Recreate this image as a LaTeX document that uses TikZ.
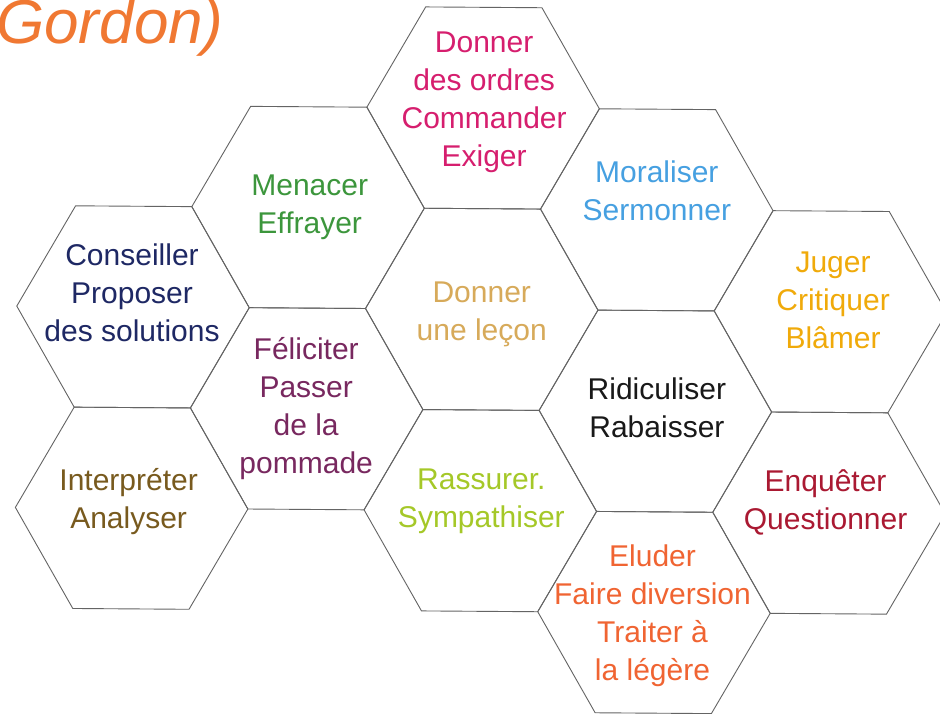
\documentclass[tikz,border=0pt]{standalone}
\usepackage{fontspec}
\setmainfont{Liberation Sans}
\usetikzlibrary{calc}
\definecolor{cordres}{RGB}{214,30,110}
\definecolor{cmenacer}{RGB}{60,150,60}
\definecolor{cconseil}{RGB}{30,40,100}
\definecolor{cmoral}{RGB}{70,160,225}
\definecolor{cjuger}{RGB}{240,170,10}
\definecolor{clecon}{RGB}{215,170,90}
\definecolor{cfelic}{RGB}{120,40,95}
\definecolor{crassur}{RGB}{165,200,40}
\definecolor{cridic}{RGB}{25,25,25}
\definecolor{cinterp}{RGB}{120,90,30}
\definecolor{cenquet}{RGB}{170,25,50}
\definecolor{celuder}{RGB}{240,100,50}
\definecolor{cgordon}{RGB}{240,120,50}
\definecolor{cline}{RGB}{100,100,100}
\newcommand\hexcell[1]{(#1) ++(0:116.25) -- ++(120:116.25) -- ++(180:116.25) -- ++(240:116.25) -- ++(300:116.25) -- ++(0:116.25) -- cycle}
\begin{document}
\begin{tikzpicture}[x=1pt,y=-1pt,
  hexline/.style={draw=cline, line width=0.9pt, line join=miter},
  lbl/.style={align=center, inner sep=0pt, font=\fontsize{30}{38}\selectfont},
  titlelbl/.style={inner sep=0pt, anchor=base west, text=cgordon, font=\fontsize{62}{70}\selectfont\itshape}]
\useasboundingbox (0,0) rectangle (940,714);
\clip (0,0) rectangle (940,714);
\fill[white] (0,0) rectangle (940,714);
\begin{scope}[rotate around={-0.4:(482,310)}]
  \coordinate (h00) at (133,309.35);
  \coordinate (h01) at (133,510.7);
  \coordinate (h10) at (307.375,208.67);
  \coordinate (h11) at (307.375,410.0);
  \coordinate (h20) at (481.75,108);
  \coordinate (h21) at (481.75,309.35);
  \coordinate (h22) at (481.75,510.7);
  \coordinate (h30) at (656.125,208.67);
  \coordinate (h31) at (656.125,410.0);
  \coordinate (h32) at (656.125,611.35);
  \coordinate (h40) at (830.5,309.35);
  \coordinate (h41) at (830.5,510.7);
  \foreach \h in {h00,h01,h10,h11,h20,h21,h22,h30,h31,h32,h40,h41}
    \draw[hexline] \hexcell{\h};
\end{scope}
\node[titlelbl] (title) at (-4,44) {Gordon)};
\node[lbl, text=cordres]  (t1)  at ($(h20)+(1,-6.6)$)   {Donner\strut\\des ordres\strut\\Commander\strut\\Exiger\strut};
\node[lbl, text=cmenacer] (t2)  at ($(h10)+(1.6,-1)$)   {Menacer\strut\\Effrayer\strut};
\node[lbl, text=cconseil] (t3)  at ($(h00)+(-1,-11.4)$) {Conseiller\strut\\Proposer\strut\\des solutions\strut};
\node[lbl, text=cmoral]   (t4)  at ($(h30)+(0,-15.5)$)  {Moraliser\strut\\Sermonner\strut};
\node[lbl, text=cjuger]   (t5)  at ($(h40)+(2.6,-8.4)$) {Juger\strut\\Critiquer\strut\\Blâmer\strut};
\node[lbl, text=clecon]   (t6)  at ($(h21)+(0,5)$)      {Donner\strut\\une leçon\strut};
\node[lbl, text=cfelic]   (t7)  at ($(h11)+(-0.5,0.6)$) {Féliciter\strut\\Passer\strut\\de la\strut\\pommade\strut};
\node[lbl, text=crassur]  (t8)  at ($(h22)+(1,-9.3)$)   {Rassurer.\strut\\Sympathiser\strut};
\node[lbl, text=cridic]   (t9)  at ($(h31)+(1.5,-0.8)$) {Ridiculiser\strut\\Rabaisser\strut};
\node[lbl, text=cinterp]  (t10) at ($(h01)+(-3,-6.8)$)  {Interpréter\strut\\Analyser\strut};
\node[lbl, text=cenquet]  (t11) at ($(h41)+(-3.5,-10.7)$) {Enquêter\strut\\Questionner\strut};
\node[lbl, text=celuder]  (t12) at ($(h32)+(-1.5,3.8)$) {Eluder\strut\\Faire diversion\strut\\Traiter à\strut\\la légère\strut};
\end{tikzpicture}
\end{document}
